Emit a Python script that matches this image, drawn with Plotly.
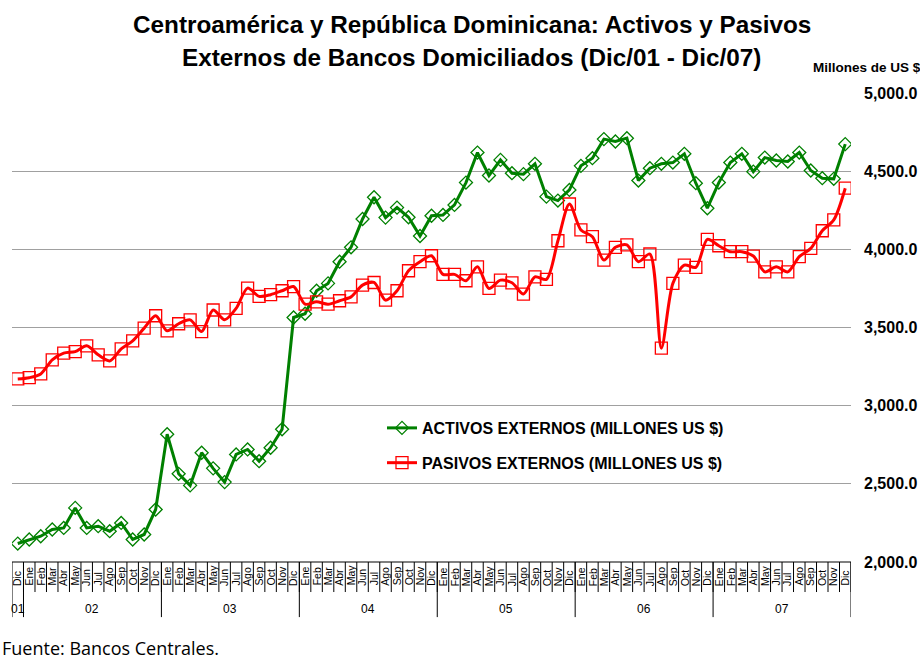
import plotly.graph_objects as go

# Month labels and year groups for the category axis (Dic/01 .. Dic/07)
MONTHS = ["Ene", "Feb", "Mar", "Abr", "May", "Jun", "Jul", "Ago", "Sep", "Oct", "Nov", "Dic"]
YEARS = ["01", "02", "03", "04", "05", "06", "07"]

# Activos externos (millones de US $), Dic/01 - Dic/07
activos = [
    2118,
    2144, 2165, 2208, 2218, 2346, 2218, 2229, 2197, 2250, 2144, 2176, 2336,
    2817, 2564, 2490, 2699, 2599, 2511, 2688, 2720, 2645, 2731, 2849, 3564,
    3588, 3735, 3782, 3921, 4013, 4194, 4333, 4203, 4267, 4205, 4085, 4215,
    4220, 4284, 4427, 4619, 4472, 4572, 4487, 4481, 4547, 4337, 4312, 4380,
    4534, 4583, 4705, 4690, 4711, 4440, 4519, 4547, 4555, 4611, 4423, 4263,
    4427, 4555, 4611, 4497, 4587, 4568, 4562, 4619, 4504, 4455, 4451, 4673,
]

# Pasivos externos (millones de US $), Dic/01 - Dic/07
pasivos = [
    3171,
    3179, 3203, 3293, 3336, 3346, 3383, 3325, 3286, 3363, 3415, 3496, 3575,
    3479, 3524, 3549, 3474, 3612, 3549, 3622, 3752, 3699, 3710, 3735, 3762,
    3649, 3664, 3649, 3671, 3696, 3771, 3788, 3675, 3735, 3863, 3921, 3959,
    3840, 3840, 3799, 3888, 3750, 3803, 3786, 3714, 3824, 3808, 4055, 4290,
    4124, 4081, 3931, 4013, 4028, 3921, 3970, 3368, 3782, 3899, 3885, 4064,
    4023, 3985, 3985, 3957, 3856, 3888, 3856, 3953, 4006, 4119, 4188, 4391,
]

month_labels = ["Dic"] + MONTHS * (len(YEARS) - 1)
idx = list(range(len(month_labels)))

# index ranges covered by each year group on the axis
year_spans = [(0, 0)] + [(1 + 12 * k, 12 + 12 * k) for k in range(len(YEARS) - 1)]

FONT = "Liberation Sans, Arial, sans-serif"
GREEN = "#008000"
RED = "#FF0000"

fig = go.Figure()
fig.add_trace(go.Scatter(
    x=idx, y=activos, mode="lines+markers",
    name="ACTIVOS EXTERNOS (MILLONES US $)", legendgroup="a",
    line=dict(color=GREEN, width=3),
    marker=dict(symbol="diamond-open", size=10, color=GREEN, line=dict(width=1.3, color=GREEN)),
))
fig.add_trace(go.Scatter(
    x=idx, y=pasivos, mode="lines+markers",
    name="PASIVOS EXTERNOS (MILLONES US $)", legendgroup="p",
    line=dict(color=RED, width=3, shape="spline", smoothing=0.8),
    marker=dict(symbol="square-open", size=12, color=RED, line=dict(width=1.3, color=RED)),
))

shapes = []
annotations = []
AX_BOTTOM = -0.064   # month tick length below the axis (paper units)
YR_BOTTOM = -0.1175  # year divider length

# month ticks and rotated month labels
for i, lab in enumerate(month_labels):
    shapes.append(dict(type="line", xref="x", yref="paper", x0=i + 0.5, x1=i + 0.5,
                       y0=0, y1=AX_BOTTOM, line=dict(color="black", width=1)))
    annotations.append(dict(x=i, y=-0.055, xref="x", yref="paper", text=lab,
                            textangle=-90, showarrow=False, xanchor="center", yanchor="bottom",
                            font=dict(family=FONT, size=10.5, color="black")))

# year dividers and labels
shapes.append(dict(type="line", xref="x", yref="paper", x0=-0.5, x1=-0.5,
                   y0=0, y1=YR_BOTTOM, line=dict(color="black", width=1)))
for yr, (a, b) in zip(YEARS, year_spans):
    shapes.append(dict(type="line", xref="x", yref="paper", x0=b + 0.5, x1=b + 0.5,
                       y0=0, y1=YR_BOTTOM, line=dict(color="black", width=1)))
    annotations.append(dict(x=(a + b) / 2, y=-0.1, xref="x", yref="paper", text=yr,
                            showarrow=False, xanchor="center", yanchor="middle",
                            font=dict(family=FONT, size=12, color="black")))

# bottom axis line
shapes.append(dict(type="line", xref="paper", yref="paper", x0=0, x1=1, y0=0, y1=0,
                   line=dict(color="black", width=1.2)))

# two-line title, positioned above the plot area (paper units relative to plot height)
PLOT_TOP, PLOT_BOTTOM = 93, 562
title_lines = [
    ("Centroamérica y República Dominicana: Activos y Pasivos", 25),
    ("Externos de Bancos Domiciliados (Dic/01 - Dic/07)", 57),
]
for txt, ypx in title_lines:
    annotations.append(dict(x=0.5, y=(PLOT_BOTTOM - ypx) / (PLOT_BOTTOM - PLOT_TOP),
                            xref="paper", yref="paper", xshift=40,
                            text=txt, showarrow=False, xanchor="center", yanchor="middle",
                            font=dict(family=FONT, size=24.3, color="black", weight="bold")))

unit_note = dict(x=1.0, y=1.055, xref="paper", yref="paper", text="Millones de US $",
                 showarrow=False, xanchor="left", yanchor="middle",
                 font=dict(family=FONT, size=13.5, color="black", weight="bold"), xshift=-40)
source_note = dict(x=0, y=-0.183, xref="paper", yref="paper", text="Fuente: Bancos Centrales.",
                   showarrow=False, xanchor="left", yanchor="middle", xshift=-12,
                   font=dict(family="Open Sans, sans-serif", size=18, color="black"))

fig.update_layout(
    width=920, height=657,
    margin=dict(l=12, r=69, t=PLOT_TOP, b=657 - PLOT_BOTTOM),
    paper_bgcolor="white", plot_bgcolor="white",
    showlegend=True,
    legend=dict(x=0.441, y=0.322, xanchor="left", yanchor="top", tracegroupgap=11,
                font=dict(family=FONT, size=16, color="black", weight="bold"),
                bgcolor="rgba(0,0,0,0)", itemwidth=30),
    xaxis=dict(range=[-0.5, len(month_labels) - 0.5], showticklabels=False, showgrid=False,
               zeroline=False, ticks="", automargin=False),
    yaxis=dict(range=[2000, 5000], side="right", tickvals=[2000, 2500, 3000, 3500, 4000, 4500, 5000],
               tickformat=",.1f", showgrid=True, gridcolor="#a0a0a0", gridwidth=1,
               zeroline=False, ticks="", ticklabelstandoff=12, automargin=False,
               tickfont=dict(family=FONT, size=16, color="black", weight="bold")),
    shapes=shapes,
    annotations=annotations + [unit_note, source_note],
)

fig.write_html("out.html")
